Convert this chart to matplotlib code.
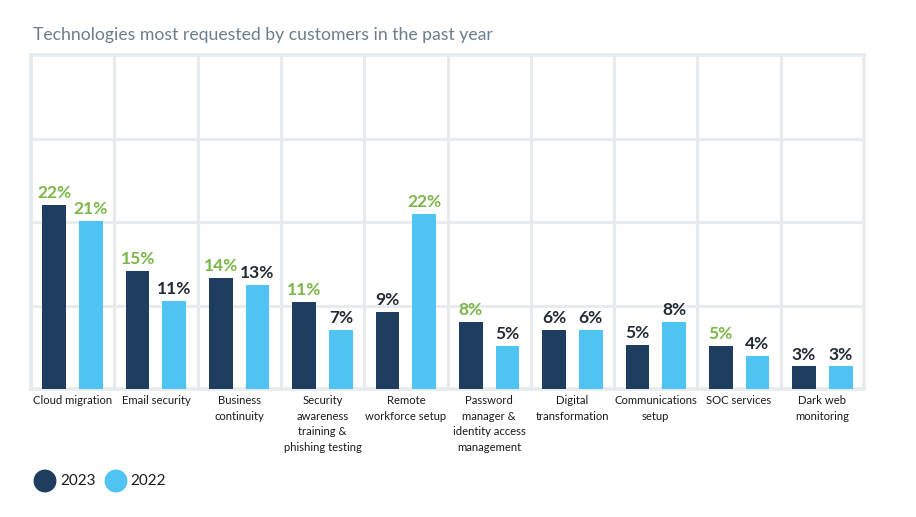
import matplotlib
matplotlib.use("Agg")
import matplotlib.pyplot as plt
from matplotlib.patches import Ellipse
import numpy as np

categories = ["Cloud migration", "Email security", "Business\ncontinuity",
              "Security\nawareness\ntraining &\nphishing testing",
              "Remote\nworkforce setup",
              "Password\nmanager &\nidentity access\nmanagement",
              "Digital\ntransformation", "Communications\nsetup",
              "SOC services", "Dark web\nmonitoring"]
values_2023 = [22.0, 14.1, 13.3, 10.4, 9.2, 8.0, 7.1, 5.3, 5.2, 2.7]
values_2022 = [20.1, 10.5, 12.5, 7.1, 21.0, 5.2, 7.1, 8.0, 4.0, 2.7]
labels_2023 = ["22%", "15%", "14%", "11%", "9%", "8%", "6%", "5%", "5%", "3%"]
labels_2022 = ["21%", "11%", "13%", "7%", "22%", "5%", "6%", "8%", "4%", "3%"]
highlight_2023 = [True, True, True, True, False, True, False, False, True, False]
highlight_2022 = [True, False, False, False, True, False, False, False, False, False]
series_names = ["2023", "2022"]
title = "Technologies most requested by customers in the past year"

NAVY = "#1f3d5f"
LIGHT = "#4fc3f2"
GREEN = "#7ab648"
DARK = "#222a33"
GRID = "#e7ebee"

plt.rcParams['font.family'] = ['Lato', 'DejaVu Sans']

W, H = 916, 517
fig = plt.figure(figsize=(W / 100, H / 100), dpi=100)
ax = fig.add_axes([31 / W, 1 - 389 / H, (864 - 31) / W, (389 - 55) / H])

x = np.arange(len(categories))
bw = 0.285
off = 0.22
ax.bar(x - off, values_2023, width=bw, color=NAVY, zorder=3)
ax.bar(x + off, values_2022, width=bw, color=LIGHT, zorder=3)

for xi, v, lab, hl in zip(x - off, values_2023, labels_2023, highlight_2023):
    ax.annotate(lab, (xi, v), xytext=(0, 5), textcoords="offset points",
                ha="center", va="baseline", fontsize=12.5, fontweight="bold",
                color=GREEN if hl else DARK, zorder=4)
for xi, v, lab, hl in zip(x + off, values_2022, labels_2022, highlight_2022):
    ax.annotate(lab, (xi, v), xytext=(0, 5), textcoords="offset points",
                ha="center", va="baseline", fontsize=12.5, fontweight="bold",
                color=GREEN if hl else DARK, zorder=4)

ax.set_xlim(-0.5, len(categories) - 0.5)
ax.set_ylim(0, 40)
ax.set_yticks([10, 20, 30])
ax.set_yticklabels([])
ax.tick_params(axis="y", length=0)
ax.set_xticks(x)
ax.set_xticklabels(categories, fontsize=8.1, color="#1a1a1a", linespacing=1.55)
ax.tick_params(axis="x", length=0, pad=4)
ax.set_xticks(np.arange(len(categories) + 1) - 0.5, minor=True)
ax.tick_params(axis="x", which="minor", length=0)
ax.grid(True, axis="y", which="major", color=GRID, linewidth=2.2, zorder=0)
ax.grid(True, axis="x", which="minor", color=GRID, linewidth=2.2, zorder=0)
ax.grid(False, axis="x", which="major")
for s in ax.spines.values():
    s.set_color(GRID)
    s.set_linewidth(2.6)
    s.set_zorder(2)

fig.text(33 / W, 1 - 40 / H, title, fontsize=12.7, color="#6b7d8c",
         ha="left", va="baseline")

# legend
for cx, col, name, tx in [(45, NAVY, series_names[0], 60), (116, LIGHT, series_names[1], 130)]:
    fig.add_artist(Ellipse((cx / W, 1 - 481 / H), 21.5 / W, 21.5 / H,
                           transform=fig.transFigure, color=col))
    fig.text(tx / W, 1 - 481 / H, name, fontsize=11, color="#1a1a1a",
             ha="left", va="center")

fig.savefig("out.png", dpi=100)
